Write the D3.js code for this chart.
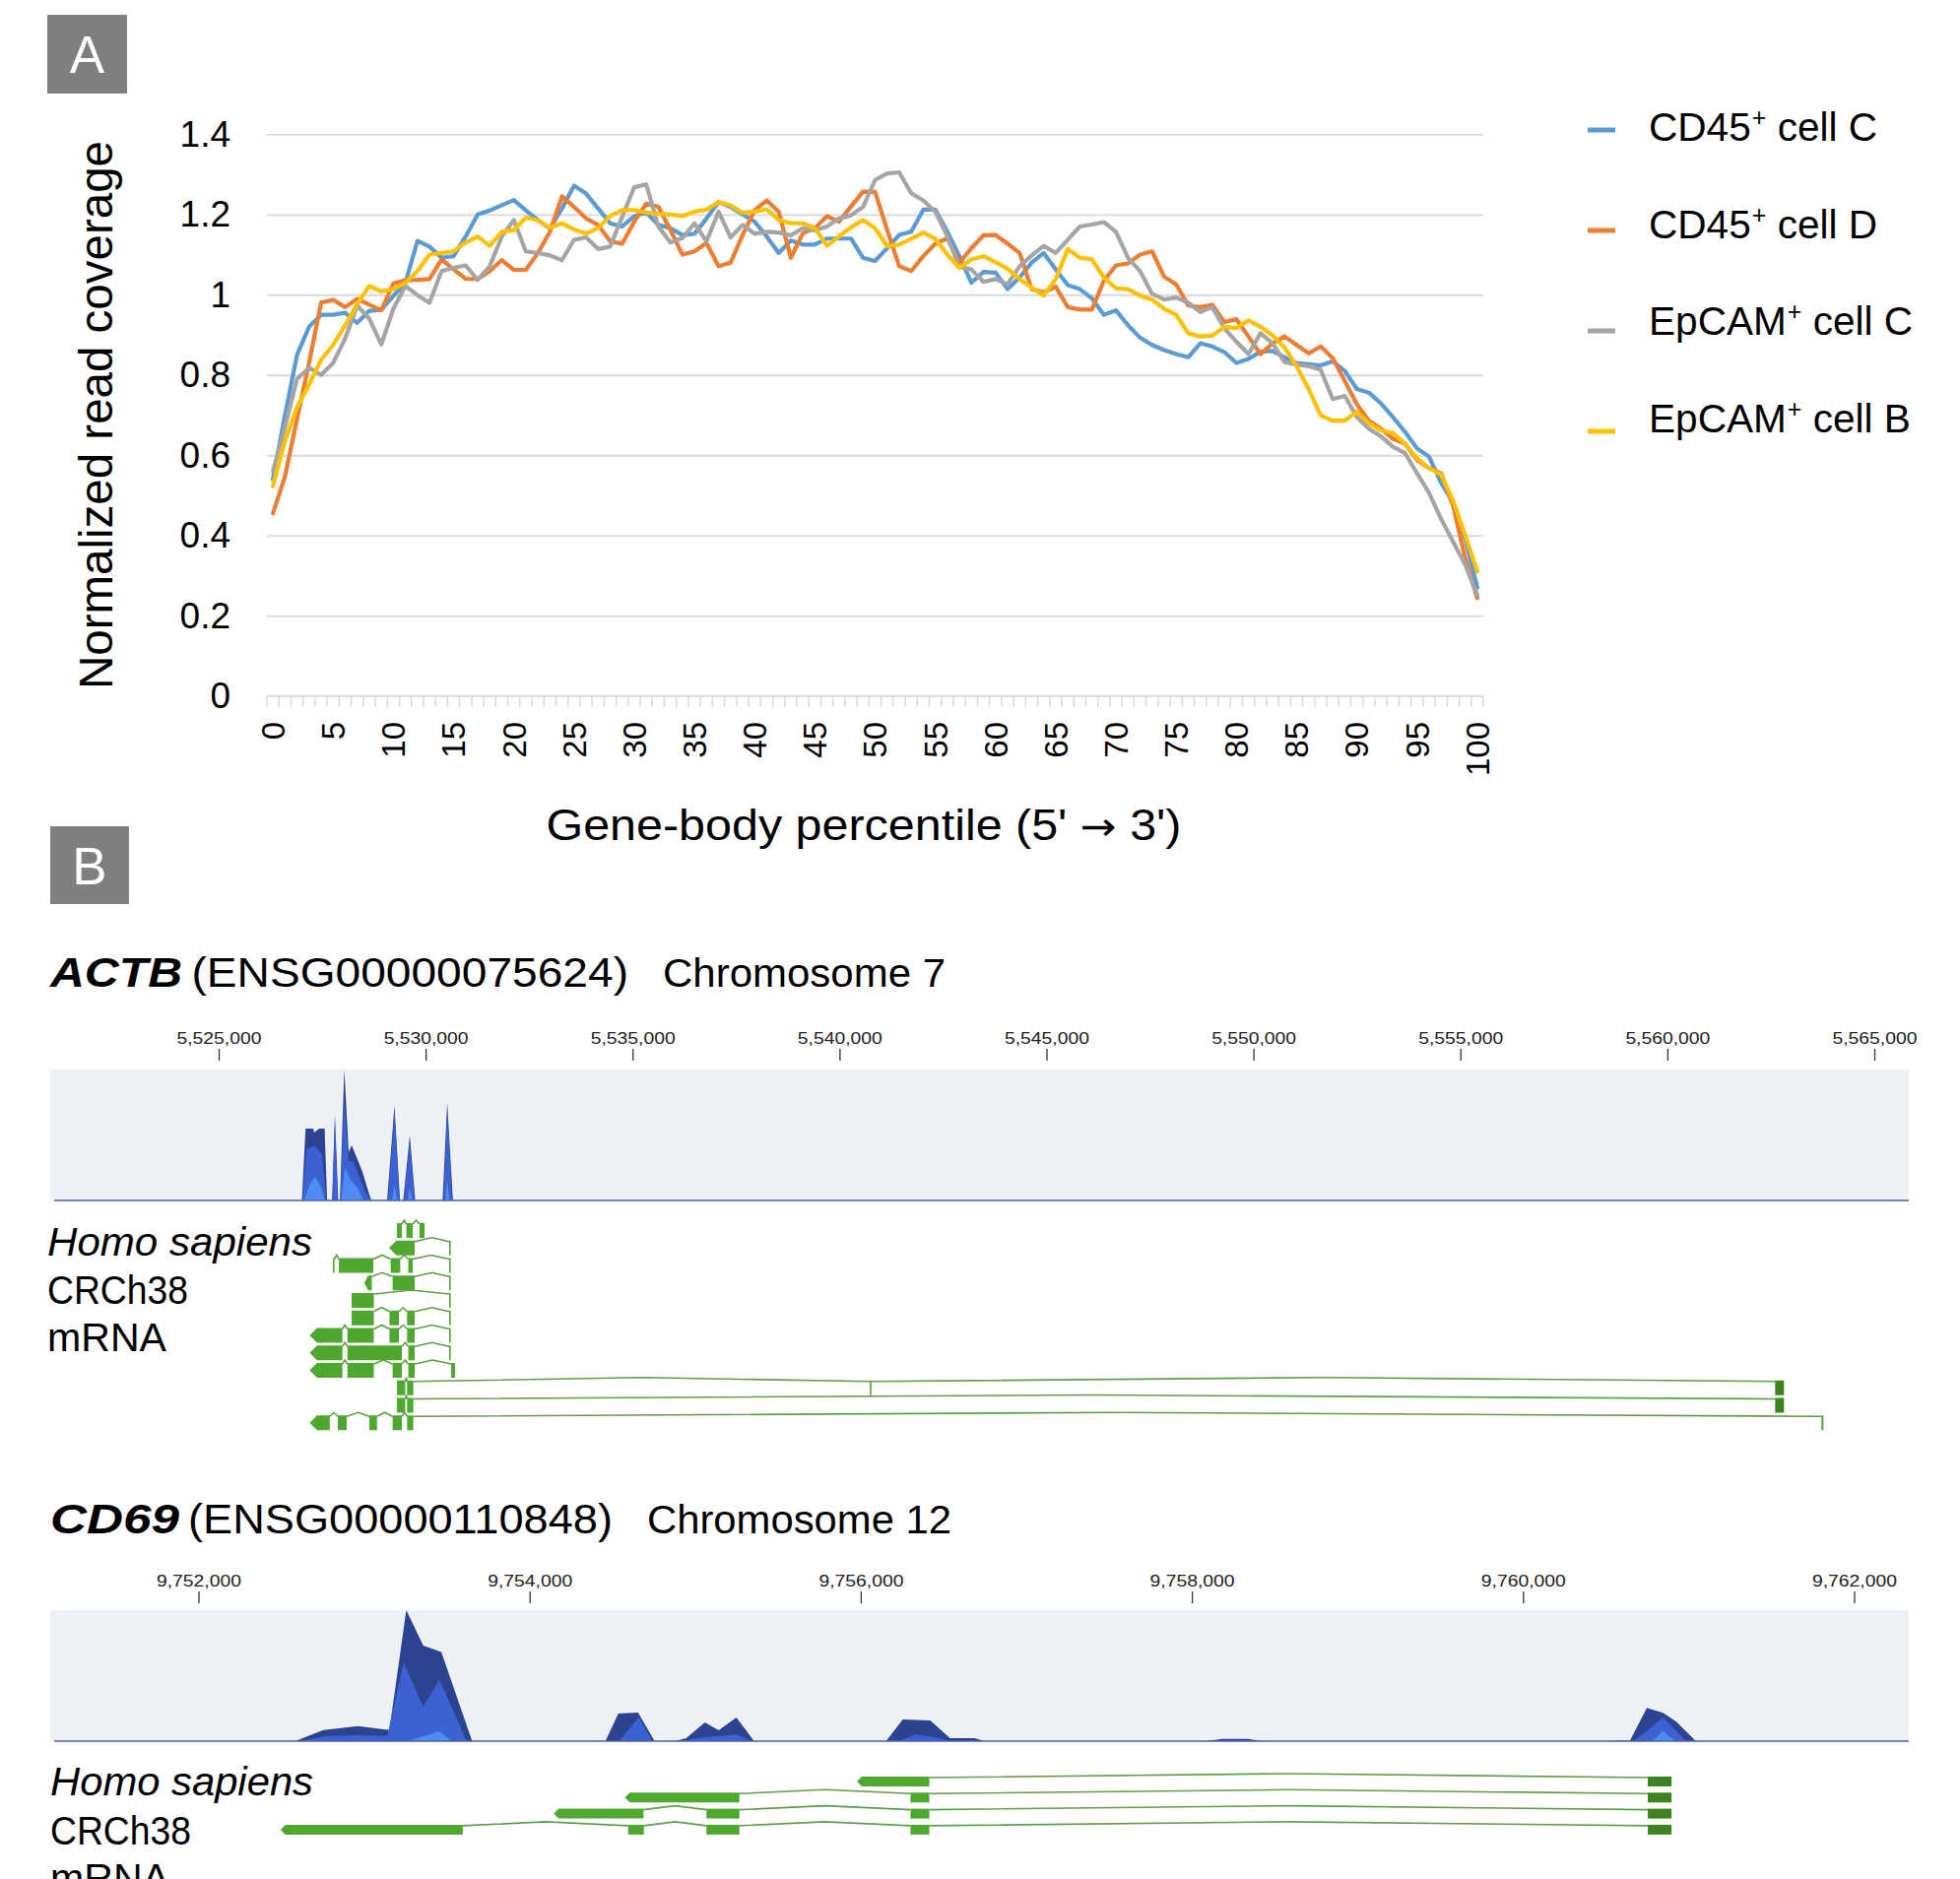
<!DOCTYPE html>
<html>
<head>
<meta charset="utf-8">
<script src="https://cdn.jsdelivr.net/npm/d3@7"></script>
<style>
body { margin: 0; background: #fff; }
svg { display: block; font-family: "Liberation Sans", Arial, sans-serif; }
</style>
</head>
<body>
<div id="container"></div>
<script>
// ---------- panel A data ----------
const percentiles = d3.range(0, 101);
const xTickLabels = ["0","5","10","15","20","25","30","35","40","45","50","55","60","65","70","75","80","85","90","95","100"];
const yTicks = [0, 0.2, 0.4, 0.6, 0.8, 1, 1.2, 1.4];
const yTickLabels = ["0","0.2","0.4","0.6","0.8","1","1.2","1.4"];

const seriesMarker = ["CD45", "CD45", "EpCAM", "EpCAM"];
const seriesCell = ["cell C", "cell D", "cell C", "cell B"];
const seriesColors = ["#5B9BD5", "#ED7D31", "#A5A5A5", "#FFC000"];

const cd45C = [0.54,0.70,0.85,0.92,0.95,0.95,0.955,0.93,0.96,0.962,0.997,1.03,1.134,1.12,1.092,1.096,1.145,1.2,1.21,1.223,
  1.236,1.21,1.186,1.165,1.215,1.272,1.252,1.215,1.178,1.17,1.196,1.205,1.174,1.166,1.149,1.152,1.19,1.231,1.219,1.2,
  1.182,1.145,1.104,1.135,1.125,1.125,1.14,1.14,1.14,1.092,1.084,1.116,1.149,1.157,1.212,1.212,1.157,1.096,1.03,1.057,
  1.055,1.014,1.043,1.08,1.104,1.063,1.024,1.014,0.991,0.95,0.961,0.924,0.893,0.875,0.862,0.852,0.844,0.879,0.871,0.857,
  0.83,0.84,0.858,0.86,0.844,0.83,0.827,0.824,0.834,0.81,0.765,0.756,0.729,0.695,0.658,0.617,0.596,0.531,0.482,0.392,0.27];
const cd45D = [0.455,0.547,0.69,0.83,0.98,0.987,0.969,0.99,0.975,0.961,1.028,1.036,1.037,1.039,1.088,1.063,1.04,1.039,1.059,1.086,
  1.062,1.062,1.104,1.157,1.245,1.219,1.19,1.174,1.133,1.127,1.182,1.227,1.219,1.162,1.1,1.108,1.129,1.071,1.08,1.149,
  1.211,1.235,1.207,1.092,1.153,1.166,1.196,1.182,1.22,1.257,1.256,1.162,1.071,1.059,1.096,1.127,1.141,1.08,1.116,1.148,
  1.149,1.127,1.104,1.014,1.006,1.02,0.969,0.963,0.963,1.035,1.073,1.078,1.1,1.108,1.045,1.026,0.973,0.969,0.975,0.932,
  0.939,0.896,0.852,0.879,0.896,0.875,0.854,0.871,0.842,0.785,0.727,0.686,0.666,0.641,0.629,0.588,0.568,0.555,0.474,0.343,0.244];
const epcamC = [0.56,0.67,0.79,0.818,0.80,0.83,0.891,0.973,0.94,0.876,0.965,1.022,0.999,0.98,1.059,1.067,1.073,1.037,1.071,1.145,
  1.186,1.108,1.104,1.098,1.086,1.137,1.143,1.114,1.12,1.194,1.268,1.275,1.17,1.13,1.141,1.178,1.133,1.207,1.143,1.174,
  1.152,1.157,1.155,1.148,1.166,1.16,1.17,1.19,1.198,1.219,1.286,1.302,1.305,1.253,1.235,1.207,1.145,1.069,1.063,1.032,
  1.039,1.026,1.071,1.098,1.122,1.104,1.137,1.17,1.175,1.181,1.157,1.092,1.059,1.002,0.988,0.993,0.98,0.957,0.969,0.916,
  0.883,0.852,0.904,0.879,0.832,0.826,0.822,0.813,0.74,0.748,0.695,0.666,0.647,0.621,0.605,0.555,0.506,0.441,0.384,0.327,0.252];
const epcamB = [0.523,0.637,0.719,0.776,0.838,0.875,0.924,0.977,1.022,1.008,1.014,1.03,1.059,1.1,1.104,1.108,1.13,1.145,1.122,1.157,
  1.161,1.192,1.186,1.167,1.178,1.163,1.152,1.166,1.196,1.211,1.211,1.205,1.202,1.2,1.196,1.207,1.212,1.231,1.223,1.204,
  1.207,1.213,1.186,1.178,1.178,1.166,1.122,1.145,1.168,1.186,1.166,1.121,1.125,1.139,1.155,1.139,1.1,1.067,1.088,1.096,
  1.081,1.065,1.039,1.018,0.998,1.039,1.114,1.092,1.088,1.043,1.016,1.014,0.998,0.988,0.965,0.95,0.904,0.896,0.898,0.92,
  0.917,0.936,0.92,0.899,0.868,0.822,0.765,0.699,0.686,0.686,0.709,0.68,0.662,0.655,0.629,0.592,0.568,0.551,0.486,0.4,0.31];

// ---------- panel B data ----------
const actbTicks = [5525000, 5530000, 5535000, 5540000, 5545000, 5550000, 5555000, 5560000, 5565000];
const actbCovDark = [[5527010,0],[5527100,0.549],[5527285,0.549],[5527309,0.519],[5527428,0.549],[5527560,0.549],[5527620,0],
  [5527740,0],[5527808,0.654],[5527890,0],[5527930,0],[5528035,1],[5528142,0.368],[5528213,0.421],[5528332,0.331],
  [5528475,0.218],[5528618,0.068],[5528689,0],[5529070,0],[5529248,0.724],[5529380,0],[5529460,0],[5529617,0.496],
  [5529750,0],[5530410,0],[5530522,0.744],[5530660,0]];
const actbCovMid = [[5527020,0],[5527120,0.39],[5527309,0.42],[5527500,0.35],[5527600,0],[5527750,0],[5527808,0.6],[5527880,0],
  [5527940,0],[5528035,0.75],[5528142,0.3],[5528250,0.3],[5528400,0.18],[5528550,0.06],[5528680,0],[5529090,0],
  [5529248,0.68],[5529370,0],[5529480,0],[5529617,0.45],[5529735,0],[5530430,0],[5530522,0.68],[5530640,0]];
const actbCovLight = [[5527060,0],[5527200,0.12],[5527330,0.18],[5527480,0.1],[5527560,0],[5527960,0],[5528050,0.25],
  [5528200,0.15],[5528350,0.1],[5528500,0],[5529180,0],[5529248,0.12],[5529320,0],[5529570,0],[5529617,0.1],[5529680,0],
  [5530480,0],[5530522,0.15],[5530580,0]];
// transcripts: list of exons [start, end, kind]; kind "a" = arrow end, "d" = dark (UTR)
const actbTranscripts = [
  [[5529308,5529427],[5529536,5529689],[5529855,5529974]],
  [[5529117,5529736,"a"],[5530569,5530600]],
  [[5527761,5527797],[5527904,5528737],[5529158,5529386],[5529582,5529689],[5530569,5530600]],
  [[5528522,5528700,"a"],[5529203,5529736],[5530569,5530600]],
  [[5528213,5528749],[5530569,5530600]],
  [[5528213,5528749],[5529127,5529355],[5529553,5529736],[5530569,5530600]],
  [[5527199,5527989,"a"],[5528111,5528749],[5529127,5529355],[5529553,5529736],[5530569,5530600]],
  [[5527199,5527989,"a"],[5528111,5529427],[5529582,5529736],[5530569,5530600]],
  [[5527199,5527989,"a"],[5528111,5528749],[5529203,5529427],[5529582,5529736],[5530617,5530712]],
  [[5529308,5529508],[5529553,5529703],[5540732,5540760],[5562604,5562818,"d"]],
  [[5529308,5529508],[5529553,5529703],[5562604,5562818,"d"]],
  [[5527199,5527685,"a"],[5527880,5528094],[5528641,5528825],[5529203,5529427],[5529553,5529703],[5563723,5563770]]
];

const cd69Ticks = [9752000, 9754000, 9756000, 9758000, 9760000, 9762000];
const cd69CovDark = [[9752584,0],[9752754,0.085],[9752963,0.115],[9753153,0.085],[9753255,1],[9753358,0.73],[9753467,0.68],
  [9753653,0],[9754458,0],[9754536,0.21],[9754655,0.218],[9754755,0],[9754880,0],[9754946,0.023],[9755059,0.143],
  [9755142,0.083],[9755249,0.18],[9755356,0],[9756153,0],[9756254,0.165],[9756420,0.158],[9756539,0.023],[9756688,0.023],
  [9756747,0],[9758085,0],[9758186,0.017],[9758341,0.017],[9758424,0],[9760510,0],[9760647,0.006],[9760748,0.253],
  [9760846,0.216],[9760926,0.148],[9761044,0]];
const cd69CovMid = [[9752620,0],[9752770,0.038],[9752963,0.045],[9753140,0.04],[9753240,0.6],[9753358,0.26],[9753455,0.47],
  [9753620,0],[9754540,0],[9754660,0.185],[9754740,0],[9754900,0],[9755060,0.03],[9755250,0.05],[9755340,0],
  [9756230,0],[9756330,0.05],[9756450,0.03],[9756540,0],[9760670,0],[9760846,0.18],[9760985,0]];
const cd69CovLight = [[9753270,0],[9753455,0.075],[9753530,0],[9760780,0],[9760846,0.075],[9760920,0]];
const cd69Transcripts = [
  [[9755977,9756414,"a"],[9760754,9760897,"d"]],
  [[9754575,9755267,"a"],[9756301,9756414],[9760754,9760897,"d"]],
  [[9754146,9754688,"a"],[9755068,9755267],[9756301,9756414],[9760754,9760897,"d"]],
  [[9752496,9753596,"a"],[9754595,9754690],[9755068,9755267],[9756301,9756414],[9760754,9760897,"d"]]
];

// ---------- drawing ----------
const W = 1990, H = 1908;
const svg = d3.select("#container").append("svg").attr("width", W).attr("height", H);

// panel letter boxes
function panelLetter(letter, x0, y0, w, h) {
    svg.append("rect").attr("x", x0).attr("y", y0).attr("width", w).attr("height", h).attr("fill", "#7f7f7f");
    svg.append("text").attr("x", x0 + w / 2).attr("y", y0 + h / 2 + 19)
        .attr("text-anchor", "middle").attr("font-size", 53).attr("fill", "#fff").text(letter);
}
panelLetter("A", 48, 15, 81, 80);
panelLetter("B", 51, 839, 80, 79);

// ----- panel A: line chart -----
const x = d3.scaleBand().domain(percentiles).range([271, 1506]);
const y = d3.scaleLinear().domain([0, 1.4]).range([706.7, 136.3]);
const bw = x.bandwidth();

const grid = svg.append("g").attr("transform", "translate(271,0)")
    .call(d3.axisLeft(y).tickValues(yTicks.slice(1)).tickSize(-1235).tickFormat(""));
grid.select(".domain").remove();
grid.selectAll("line").attr("stroke", "#d9d9d9").attr("stroke-width", 1.8);

const yAx = svg.append("g").attr("transform", "translate(271,0)")
    .call(d3.axisLeft(y).tickValues(yTicks).tickSize(0).tickPadding(37)
        .tickFormat((d, i) => yTickLabels[i]));
yAx.select(".domain").remove();
yAx.selectAll("text").attr("font-size", 37).attr("fill", "#000").attr("font-family", "Liberation Sans, Arial");

// category axis line and boundary ticks
svg.append("line").attr("x1", 271).attr("x2", 1506).attr("y1", y(0)).attr("y2", y(0))
    .attr("stroke", "#d9d9d9").attr("stroke-width", 2);
svg.append("g").selectAll("line")
    .data(percentiles.map(d => x(d)).concat([x.range()[1]]))
    .enter().append("line")
    .attr("x1", d => d).attr("x2", d => d)
    .attr("y1", y(0)).attr("y2", y(0) + 11)
    .attr("stroke", "#d9d9d9").attr("stroke-width", 1.5);

const xAx = svg.append("g").attr("transform", "translate(0,733)")
    .call(d3.axisBottom(x).tickValues(xTickLabels.map(Number)).tickSize(0).tickPadding(0)
        .tickFormat((d, i) => xTickLabels[i]));
xAx.select(".domain").remove();
xAx.selectAll("text")
    .attr("transform", "rotate(-90)")
    .attr("text-anchor", "end")
    .attr("x", 0).attr("y", 0).attr("dy", "0.36em")
    .attr("font-size", 33).attr("fill", "#000").attr("font-family", "Liberation Sans, Arial");

// series
const line = d3.line().x((d, i) => x(i) + bw / 2).y(d => y(d));
const allSeries = [cd45C, cd45D, epcamC, epcamB];
svg.append("g").selectAll("path")
    .data(allSeries)
    .enter().append("path")
    .attr("d", line)
    .attr("fill", "none")
    .attr("stroke", (d, i) => seriesColors[i])
    .attr("stroke-width", 4.2)
    .attr("stroke-linejoin", "round")
    .attr("stroke-linecap", "round");

// legend
const legend = svg.append("g").attr("id", "legend");
seriesColors.forEach((c, i) => {
    legend.append("line")
        .attr("x1", 1612).attr("x2", 1640)
        .attr("y1", 132 + i * 102).attr("y2", 132 + i * 102)
        .attr("stroke", c).attr("stroke-width", 5);
    const t = legend.append("text").attr("x", 1674).attr("y", 143 + i * 98.5)
        .attr("font-size", 40.6).attr("fill", "#000");
    t.append("tspan").text(seriesMarker[i]);
    t.append("tspan").attr("font-size", 25).attr("dy", -15).attr("dx", 1).text("+");
    t.append("tspan").attr("dy", 15).text(" " + seriesCell[i]);
});

// axis titles
svg.append("text")
    .attr("transform", "translate(113.5,421.5) rotate(-90)")
    .attr("text-anchor", "middle")
    .attr("font-size", 48)
    .attr("textLength", 557).attr("lengthAdjust", "spacingAndGlyphs")
    .text("Normalized read coverage");
const xTitle = svg.append("text")
    .attr("x", 877).attr("y", 853)
    .attr("text-anchor", "middle")
    .attr("font-size", 44)
    .attr("textLength", 645).attr("lengthAdjust", "spacingAndGlyphs");
xTitle.append("tspan").text("Gene-body percentile (5' ");
xTitle.append("tspan").attr("font-family", "DejaVu Sans").attr("font-size", 40).text("\u2192");
xTitle.append("tspan").text(" 3')");

// ----- panel B: genome browser tracks -----
function fitText(x0, y0, txt, size, len, style) {
    const t = svg.append("text").attr("x", x0).attr("y", y0).attr("font-size", size)
        .attr("textLength", len).attr("lengthAdjust", "spacingAndGlyphs").text(txt);
    if (style === "bi") t.attr("font-weight", "bold").attr("font-style", "italic");
    if (style === "i") t.attr("font-style", "italic");
    return t;
}

function drawGene(cfg) {
    // title
    fitText(51, cfg.titleY, cfg.name, 42, cfg.nameLen, "bi");
    fitText(cfg.idX, cfg.titleY, "(" + cfg.id + ")", 42, cfg.idLen);
    fitText(cfg.chromX, cfg.titleY, cfg.chrom, 40, cfg.chromLen);

    const gx = d3.scaleLinear().domain(cfg.domain).range(cfg.range);

    // coordinate ruler
    const ax = svg.append("g").attr("transform", "translate(0," + cfg.tickBottom + ")")
        .call(d3.axisTop(gx).tickValues(cfg.ticks).tickSize(12).tickPadding(5).tickFormat(d3.format(",")));
    ax.select(".domain").remove();
    ax.selectAll("line").attr("stroke", "#333").attr("stroke-width", 1.3);
    ax.selectAll("text").attr("font-size", 17).attr("fill", "#222")
        .attr("font-family", "Liberation Sans, Arial")
        .attr("textLength", 86).attr("lengthAdjust", "spacingAndGlyphs");

    // coverage panel
    svg.append("rect").attr("x", 51).attr("y", cfg.trackTop)
        .attr("width", 1938 - 51).attr("height", cfg.trackBottom - cfg.trackTop)
        .attr("fill", "#edf0f5");
    const cy = d3.scaleLinear().domain([0, 1]).range([cfg.trackBottom, cfg.trackTop]);
    const area = d3.area().x(d => gx(d[0])).y0(cfg.trackBottom).y1(d => cy(d[1]));
    const covColors = ["#2b4391", "#3c62d2", "#4e8cf2"];
    svg.append("g").selectAll("path")
        .data(cfg.cov)
        .enter().append("path")
        .attr("d", area)
        .attr("fill", (d, i) => covColors[i]);
    svg.append("line").attr("x1", 55).attr("x2", 1938)
        .attr("y1", cfg.trackBottom).attr("y2", cfg.trackBottom)
        .attr("stroke", "#4a5fb5").attr("stroke-width", 1.6);

    // species / assembly labels
    fitText(cfg.labelX, cfg.labelY[0], "Homo sapiens", 40, cfg.labelLen[0], "i");
    fitText(cfg.labelX, cfg.labelY[1], "CRCh38", 40, cfg.labelLen[1]);
    fitText(cfg.labelX, cfg.labelY[2], "mRNA", 40, cfg.labelLen[2]);

    // transcripts
    const g = svg.append("g");
    cfg.tx.forEach((exons, r) => {
        const top = cfg.rowTop + r * cfg.rowStep;
        const h = cfg.exonH;
        for (let k = 0; k < exons.length - 1; k++) {
            const x1 = gx(exons[k][1]), x2 = gx(exons[k + 1][0]);
            g.append("polyline")
                .attr("points", [[x1, top + 1], [(x1 + x2) / 2, top - 3], [x2, top + 1]].join(" "))
                .attr("fill", "none").attr("stroke", "#5e9e48").attr("stroke-width", 1.6);
        }
        exons.forEach(e => {
            const x0 = gx(e[0]), x1 = Math.max(gx(e[1]), gx(e[0]) + 1.6);
            const col = e[2] === "d" ? "#3b831f" : "#4ea72e";
            if (e[2] === "a") {
                const tip = Math.min(h / 2, (x1 - x0) / 2);
                g.append("polygon")
                    .attr("points", [[x0, top + h / 2], [x0 + tip, top], [x1, top], [x1, top + h], [x0 + tip, top + h]].join(" "))
                    .attr("fill", col);
            } else {
                g.append("rect").attr("x", x0).attr("y", top)
                    .attr("width", x1 - x0).attr("height", h).attr("fill", col);
            }
        });
    });
}

drawGene({
    name: "ACTB", id: "ENSG00000075624", chrom: "Chromosome 7",
    titleY: 1001.7, nameLen: 134, idX: 194.5, idLen: 443.5, chromX: 673, chromLen: 287,
    domain: [5525000, 5565000], range: [222, 1903], ticks: actbTicks,
    tickBottom: 1077, trackTop: 1086, trackBottom: 1219,
    cov: [actbCovDark, actbCovMid, actbCovLight],
    labelX: 48, labelY: [1275, 1324, 1371.7], labelLen: [269, 143, 121],
    tx: actbTranscripts, rowTop: 1242, rowStep: 17.75, exonH: 15
});

drawGene({
    name: "CD69", id: "ENSG00000110848", chrom: "Chromosome 12",
    titleY: 1556.7, nameLen: 131, idX: 191, idLen: 431, chromX: 657, chromLen: 309,
    domain: [9752000, 9762000], range: [201.5, 1882.5], ticks: cd69Ticks,
    tickBottom: 1628, trackTop: 1635, trackBottom: 1768,
    cov: [cd69CovDark, cd69CovMid, cd69CovLight],
    labelX: 51, labelY: [1823, 1872.7, 1921], labelLen: [267, 143, 121],
    tx: cd69Transcripts, rowTop: 1804, rowStep: 16.3, exonH: 10
});
</script>
</body>
</html>
